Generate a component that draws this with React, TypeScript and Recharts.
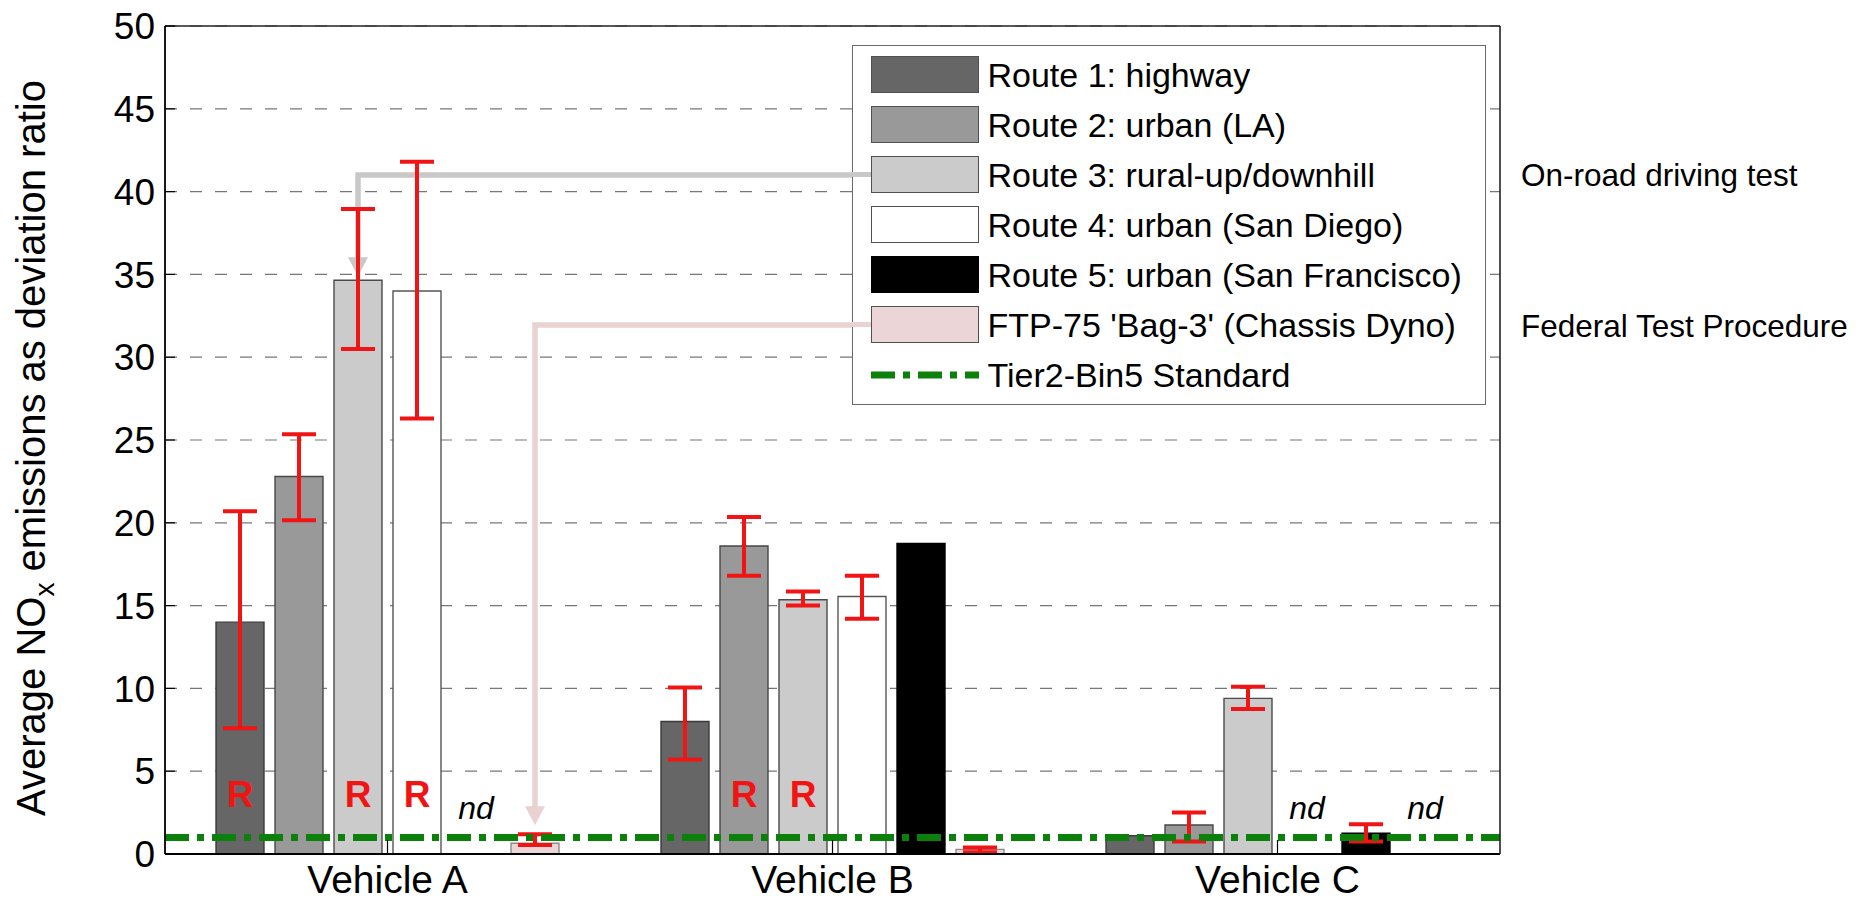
import React from 'react';
import {
  BarChart,
  Bar,
  XAxis,
  YAxis,
  CartesianGrid,
  ErrorBar,
  ReferenceLine,
  LabelList,
  Legend,
  Rectangle,
} from 'recharts';

const FONT = '"Liberation Sans", Arial, Helvetica, sans-serif';

// ---- data ----
const vehicles = ['Vehicle A', 'Vehicle B', 'Vehicle C'];
const yTicks = [0, 5, 10, 15, 20, 25, 30, 35, 40, 45, 50];

// average NOx deviation ratio per route (0 = no data)
const route1 = [14.0, 8.0, 1.1];
const route2 = [22.8, 18.6, 1.75];
const route3 = [34.65, 15.35, 9.4];
const route4 = [34.0, 15.55, 0];
const route5 = [0, 18.75, 1.25];
const ftp75 = [0.65, 0.28, 0];

// [low, high] of the red whiskers
const route1Range = [[7.6, 20.7], [5.7, 10.05], null];
const route2Range = [[20.15, 25.35], [16.8, 20.35], [0.75, 2.5]];
const route3Range = [[30.5, 38.95], [15.0, 15.85], [8.75, 10.1]];
const route4Range = [[26.3, 41.8], [14.2, 16.8], null];
const route5Range = [null, null, [0.75, 1.8]];
const ftp75Range = [[0.55, 1.2], [0.1, 0.4], null];

// 'R' marks, 'nd' = not determined
const route1Flags = ['R', '', ''];
const route2Flags = ['', 'R', ''];
const route3Flags = ['R', 'R', ''];
const route4Flags = ['R', '', 'nd'];
const route5Flags = ['nd', '', ''];
const ftp75Flags = ['', '', 'nd'];

const tier2Bin5 = 1;

type Series = {
  key: string;
  name: string;
  fill: string;
  stroke: string;
  values: number[];
  ranges: (number[] | null)[];
  flags: string[];
  pointer?: { index: number; color: string; gap: number };
};

const series: Series[] = [
  { key: 'r1', name: 'Route 1: highway', fill: '#666666', stroke: '#3a3a3a', values: route1, ranges: route1Range, flags: route1Flags },
  { key: 'r2', name: 'Route 2: urban (LA)', fill: '#999999', stroke: '#474747', values: route2, ranges: route2Range, flags: route2Flags },
  {
    key: 'r3', name: 'Route 3: rural-up/downhill', fill: '#cbcbcb', stroke: '#4a4a4a', values: route3, ranges: route3Range, flags: route3Flags,
    pointer: { index: 0, color: '#c8c8c8', gap: 4 },
  },
  { key: 'r4', name: 'Route 4: urban (San Diego)', fill: '#ffffff', stroke: '#555555', values: route4, ranges: route4Range, flags: route4Flags },
  { key: 'r5', name: 'Route 5: urban (San Francisco)', fill: '#000000', stroke: '#000000', values: route5, ranges: route5Range, flags: route5Flags },
  {
    key: 'ftp', name: "FTP-75 'Bag-3' (Chassis Dyno)", fill: '#ebd5d6', stroke: '#8c8c8c', values: ftp75, ranges: ftp75Range, flags: ftp75Flags,
    pointer: { index: 0, color: '#e8d2d2', gap: 18 },
  },
];

const rows = vehicles.map((name, i) => {
  const row: Record<string, any> = { name };
  series.forEach((s) => {
    const v = s.values[i];
    const r = s.ranges[i];
    row[s.key] = v;
    row[s.key + 'Err'] = r ? [v - r[0], r[1] - v] : null;
  });
  return row;
});

// ---- layout ----
// the wrapper is pulled up over the body margin, so y values here are page y
const WIDTH = 1847;
const HEIGHT = 902;
const LEGEND_LEFT = 844;
const LEGEND_TOP = 45;
const LEGEND_W = 634;
const LEGEND_H = 360;
const LEGEND_BORDER = 1.5;
const ROW0 = 28.5;
const ROW_PITCH = 50;
const ARROW_W = 5.5;
const HEAD_LEN = 19;
const HEAD_HALF = 10;
const RED = '#f01414';
const GREEN = '#0b800b';
const GREEN_DASH = '24 8 7 8';

const rowCenter = (k: number) => LEGEND_TOP + LEGEND_BORDER + ROW0 + ROW_PITCH * k;

const makeShape = (s: Series) => (props: any) => {
  const { x, y, width, height, index } = props;
  const p = s.pointer;
  let arrow = null;
  if (p && index === p.index) {
    const cx = x + width / 2;
    const ry = rowCenter(series.indexOf(s));
    const tip = y - p.gap;
    arrow = (
      <g>
        <polyline
          points={`${LEGEND_LEFT},${ry} ${cx},${ry} ${cx},${tip - HEAD_LEN + 1}`}
          fill="none"
          stroke={p.color}
          strokeWidth={ARROW_W}
        />
        <path d={`M${cx - HEAD_HALF},${tip - HEAD_LEN} L${cx + HEAD_HALF},${tip - HEAD_LEN} L${cx},${tip} Z`} fill={p.color} />
      </g>
    );
  }
  return (
    <g>
      <Rectangle x={x} y={y} width={width} height={height} fill={s.fill} stroke={s.stroke} strokeWidth={1.4} />
      {arrow}
    </g>
  );
};

const makeFlagLabel = (flags: string[]) => (props: any) => {
  const { x, y, width, height, index } = props;
  const flag = flags[index];
  if (!flag) return null;
  const cx = x + width / 2;
  const bottom = y + height;
  if (flag === 'R') {
    return (
      <text x={cx} y={bottom - 47} textAnchor="middle" fontFamily={FONT} fontWeight="bold" fontSize={37} fill={RED}>
        R
      </text>
    );
  }
  return (
    <text x={cx} y={bottom - 35} textAnchor="middle" fontFamily={FONT} fontStyle="italic" fontSize={32} fill="#000">
      {flag}
    </text>
  );
};

const YTitle = () => (
  <text
    x={37}
    y={448}
    transform="rotate(-90, 37, 448)"
    textAnchor="middle"
    fontFamily={FONT}
    fontSize={40}
    fill="#000"
  >
    Average NO
    <tspan dy={9} fontSize={28}>x</tspan>
    <tspan dy={-9}> emissions as deviation ratio</tspan>
  </text>
);

const LegendBox = () => (
  <div
    style={{
      position: 'relative',
      width: LEGEND_W,
      height: LEGEND_H,
      boxSizing: 'border-box',
      background: '#fff',
      border: `${LEGEND_BORDER}px solid #6a6a6a`,
      fontFamily: FONT,
      color: '#000',
    }}
  >
    {series.map((s, k) =>
      s.pointer ? (
        <div
          key={'stub' + s.key}
          style={{
            position: 'absolute',
            left: -LEGEND_BORDER,
            top: ROW0 + ROW_PITCH * k - ARROW_W / 2,
            width: 20,
            height: ARROW_W,
            background: s.pointer.color,
          }}
        />
      ) : null
    )}
    {series.map((s, k) => (
      <div
        key={s.key}
        style={{
          position: 'absolute',
          left: 17.5,
          top: ROW0 + ROW_PITCH * k - 19,
          height: 38,
          display: 'flex',
          alignItems: 'center',
          whiteSpace: 'nowrap',
        }}
      >
        <div
          style={{
            width: 108,
            height: 37,
            boxSizing: 'border-box',
            background: s.fill,
            border: `1.5px solid ${s.stroke === '#000000' ? '#000' : '#505050'}`,
          }}
        />
        <span style={{ marginLeft: 9, fontSize: 34, lineHeight: '38px' }}>{s.name}</span>
      </div>
    ))}
    <div
      style={{
        position: 'absolute',
        left: 17.5,
        top: ROW0 + ROW_PITCH * series.length - 19,
        height: 38,
        display: 'flex',
        alignItems: 'center',
        whiteSpace: 'nowrap',
      }}
    >
      <svg width={108} height={38}>
        <line x1={0} y1={19} x2={108} y2={19} stroke={GREEN} strokeWidth={7} strokeDasharray={GREEN_DASH} />
      </svg>
      <span style={{ marginLeft: 9, fontSize: 34, lineHeight: '38px' }}>Tier2-Bin5 Standard</span>
    </div>
  </div>
);

const noteStyle: React.CSSProperties = {
  position: 'absolute',
  left: 1513,
  fontFamily: FONT,
  fontSize: 31.5,
  lineHeight: 1,
  color: '#000',
  whiteSpace: 'nowrap',
};

export default function App() {
  return (
    <div style={{ position: 'relative', width: WIDTH, height: HEIGHT, marginTop: -8 }}>
      <BarChart
        width={WIDTH}
        height={HEIGHT}
        data={rows}
        margin={{ top: 26, right: 355, bottom: 0, left: 57 }}
        barGap={11}
      >
        <CartesianGrid vertical={false} stroke="#767676" strokeWidth={1.2} strokeDasharray="12 13" />
        <XAxis
          dataKey="name"
          height={48}
          interval={0}
          tickSize={-14}
          tickMargin={25}
          axisLine={{ stroke: '#000', strokeWidth: 2 }}
          tickLine={{ stroke: '#000', strokeWidth: 1.2 }}
          tick={{ fontSize: 39, fill: '#000', fontFamily: FONT }}
        />
        <XAxis
          xAxisId="top"
          orientation="top"
          dataKey="name"
          height={1}
          mirror
          interval={0}
          tick={false}
          tickSize={14}
          axisLine={{ stroke: '#222', strokeWidth: 1.3 }}
          tickLine={{ stroke: '#222', strokeWidth: 1.2 }}
        />
        <YAxis
          width={100}
          domain={[0, 50]}
          ticks={yTicks}
          interval={0}
          tickSize={-10}
          tickMargin={20}
          axisLine={{ stroke: '#000', strokeWidth: 1.8 }}
          tickLine={{ stroke: '#000', strokeWidth: 1.2 }}
          tick={{ fontSize: 37, fill: '#000', fontFamily: FONT }}
          label={<YTitle />}
        />
        <YAxis
          yAxisId="right"
          orientation="right"
          type="number"
          width={1}
          mirror
          domain={[0, 50]}
          allowDataOverflow
          ticks={yTicks}
          interval={0}
          tick={false}
          tickSize={10}
          axisLine={{ stroke: '#222', strokeWidth: 1.6 }}
          tickLine={{ stroke: '#222', strokeWidth: 1.2 }}
        />
        {series.map((s) => (
          <Bar
            key={s.key}
            dataKey={s.key}
            name={s.name}
            fill={s.fill}
            stroke={s.stroke}
            barSize={48}
            isAnimationActive={false}
            shape={makeShape(s)}
          >
            <ErrorBar
              dataKey={s.key + 'Err'}
              direction="y"
              width={17}
              stroke={RED}
              strokeWidth={4}
              isAnimationActive={false}
            />
            <LabelList dataKey={s.key} content={makeFlagLabel(s.flags)} />
          </Bar>
        ))}
        <ReferenceLine y={tier2Bin5} stroke={GREEN} strokeWidth={7} strokeDasharray={GREEN_DASH} />
        <Legend
          layout="vertical"
          align="center"
          verticalAlign="middle"
          content={() => <LegendBox />}
          wrapperStyle={{ left: LEGEND_LEFT, top: LEGEND_TOP, width: LEGEND_W, height: LEGEND_H }}
        />
      </BarChart>
      <div style={{ ...noteStyle, top: 160 }}>On-road driving test</div>
      <div style={{ ...noteStyle, top: 311 }}>Federal Test Procedure</div>
    </div>
  );
}
